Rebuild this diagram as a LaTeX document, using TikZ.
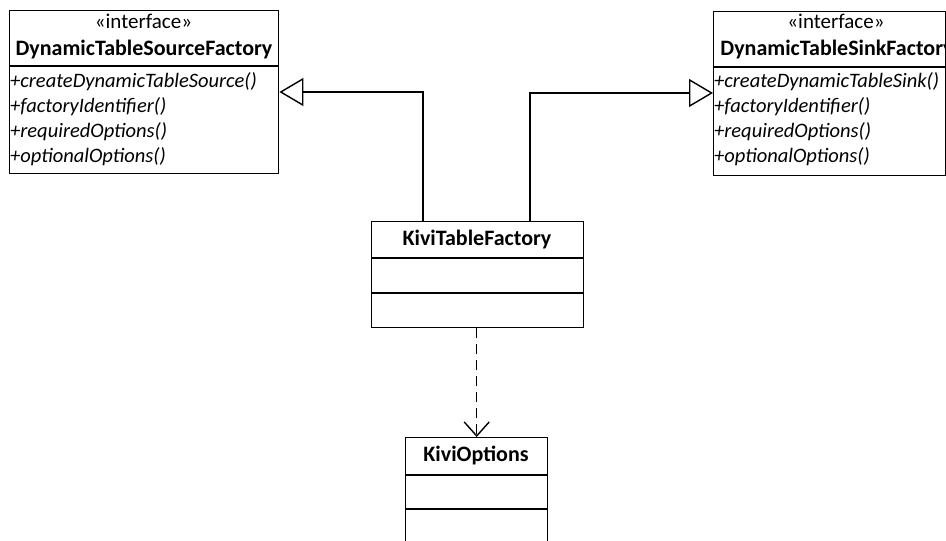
\documentclass[tikz,border=0pt]{standalone}
\usepackage{fontspec}
\setmainfont{Carlito}
\usetikzlibrary{arrows.meta}
\begin{document}
\begin{tikzpicture}[x=1pt,y=-1pt,
  umlbox/.style={draw, line width=1.4pt, rectangle, inner sep=0pt, anchor=north west},
  sep/.style={line width=1.4pt},
  lbl/.style={inner sep=0pt, font=\fontsize{21}{25}\selectfont},
  meth/.style={lbl, anchor=base west, font=\fontsize{20.5}{25}\selectfont\itshape},
  title/.style={lbl, anchor=base, font=\fontsize{22}{26}\selectfont\bfseries},
  inherit/.style={line width=1.4pt, -{Triangle[open, length=24pt, width=28pt, line width=1.4pt]}},
  depend/.style={line width=1.4pt, dash pattern=on 10pt off 6pt, -{Straight Barb[length=14pt, width=25pt, line width=1.4pt]}}
]
\useasboundingbox (0,0) rectangle (946,541);
\fill[white] (0,0) rectangle (946,541);
\begin{scope}
\clip (0,0) rectangle (946,541);

% interface DynamicTableSourceFactory
\node[umlbox, minimum width=269pt, minimum height=163pt] (src) at (9,10) {};
\draw[sep] (9,66) -- (278,66);
\node[lbl, anchor=base] (srcst) at (143.5,28) {«interface»};
\node[title] (srcname) at (144,55) {DynamicTableSourceFactory};
\node[meth] (srcm1) at (10,87) {+createDynamicTableSource()};
\node[meth] (srcm2) at (10,112) {+factoryIdentifier()};
\node[meth] (srcm3) at (10,137) {+requiredOptions()};
\node[meth] (srcm4) at (10,162) {+optionalOptions()};

% interface DynamicTableSinkFactory
\node[umlbox, minimum width=232pt, minimum height=164pt] (sink) at (713,11) {};
\draw[sep] (713,67) -- (945,67);
\node[lbl, anchor=base] (sinkst) at (836,28) {«interface»};
\node[title] (sinkname) at (837,55) {DynamicTableSinkFactory};
\node[meth] (sinkm1) at (714,87) {+createDynamicTableSink()};
\node[meth] (sinkm2) at (714,112) {+factoryIdentifier()};
\node[meth] (sinkm3) at (714,137) {+requiredOptions()};
\node[meth] (sinkm4) at (714,162) {+optionalOptions()};

% class KiviTableFactory
\node[umlbox, minimum width=212pt, minimum height=106pt] (kivi) at (371,221) {};
\draw[sep] (371,258) -- (583,258);
\draw[sep] (371,293) -- (583,293);
\node[title] (kiviname) at (477,245) {KiviTableFactory};

% class KiviOptions
\node[umlbox, minimum width=142pt, minimum height=120pt] (opts) at (405,437) {};
\draw[sep] (405,475) -- (547,475);
\draw[sep] (405,509) -- (547,509);
\node[title] (optsname) at (476,461) {KiviOptions};

% realization and dependency connectors
\coordinate (jl) at (423,92);
\coordinate (jr) at (530,93);
\draw[inherit] (kivi.north -| jl) |- (src.east |- jl);
\draw[inherit] (kivi.north -| jr) |- (sink.west |- jr);
\draw[depend] (kivi.south -| opts.north) -- (opts.north);
\end{scope}
\end{tikzpicture}
\end{document}
